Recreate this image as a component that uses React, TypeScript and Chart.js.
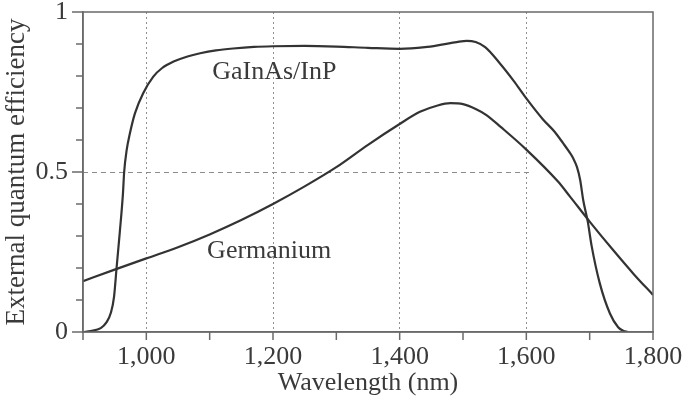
import React, { useEffect, useRef } from 'react';
import { Chart, registerables } from 'chart.js';

Chart.register(...registerables);

// GaInAs/InP photodiode (wavelength nm, external quantum efficiency)
const GAINAS_WL = [900, 912, 928, 937, 944, 949, 953, 958, 963, 965, 969, 974, 982, 995, 1011, 1025, 1043, 1065, 1085, 1110, 1137, 1170, 1200, 1250, 1300, 1350, 1400, 1440, 1464, 1490, 1506, 1520, 1535, 1558, 1580, 1600, 1626, 1645, 1658, 1667, 1674, 1680, 1685, 1690, 1697, 1703, 1716, 1732, 1745, 1753, 1760];
const GAINAS_QE = [0, 0.003, 0.012, 0.03, 0.06, 0.11, 0.2, 0.31, 0.43, 0.5, 0.569, 0.62, 0.683, 0.746, 0.798, 0.825, 0.845, 0.861, 0.871, 0.88, 0.886, 0.891, 0.893, 0.894, 0.892, 0.888, 0.885, 0.89, 0.897, 0.906, 0.91, 0.906, 0.89, 0.84, 0.785, 0.73, 0.665, 0.625, 0.59, 0.565, 0.543, 0.515, 0.475, 0.41, 0.345, 0.27, 0.152, 0.058, 0.015, 0.004, 0];

// Germanium photodiode
const GE_WL = [900, 950, 1000, 1050, 1100, 1150, 1200, 1250, 1300, 1350, 1400, 1432, 1460, 1480, 1500, 1520, 1537, 1560, 1600, 1650, 1669, 1700, 1737, 1770, 1800];
const GE_QE = [0.159, 0.195, 0.23, 0.265, 0.305, 0.35, 0.4, 0.455, 0.515, 0.585, 0.65, 0.688, 0.708, 0.715, 0.712, 0.697, 0.678, 0.64, 0.57, 0.47, 0.423, 0.345, 0.256, 0.18, 0.116];

const X_MIN = 900;
const X_MAX = 1800;
const X_STEP = 100;
const X_LABELED = [1000, 1200, 1400, 1600, 1800];
const X_GRID = [1000, 1200, 1400, 1600];
const Y_MIN = 0;
const Y_MAX = 1;
const Y_LABELS = ['0', '', '', '', '', '0.5', '', '', '', '', '1'];
const Y_GRID = 0.5;
const Y_GRID_END = 1610;

const CURVE_LABEL_TEXT = ['GaInAs/InP', 'Germanium'];
const CURVE_LABEL_X = [1202, 1194];
const CURVE_LABEL_Y = [0.791, 0.231];

const X_TITLE = 'Wavelength (nm)';
const Y_TITLE = 'External quantum efficiency';

const FONT = '"Liberation Serif", "Times New Roman", serif';
const TEXT_COLOR = '#3a3a3a';
const AXIS_COLOR = '#6a6a6a';
const CURVE_COLOR = '#333333';

const fmt = (v: number) => v.toLocaleString('en-US');

const zeroPadding = (s: any) => {
  s.paddingTop = 0;
  s.paddingBottom = 0;
  s.paddingLeft = 0;
  s.paddingRight = 0;
};

const decorPlugin = {
  id: 'decor',
  beforeDatasetsDraw(chart: any) {
    const { ctx, chartArea, scales } = chart;
    const x = scales.x;
    const y = scales.y;
    ctx.save();
    ctx.strokeStyle = '#8c8c8c';
    ctx.lineWidth = 1;
    ctx.setLineDash([5, 4]);
    const py = Math.round(y.getPixelForValue(Y_GRID)) + 0.5;
    ctx.beginPath();
    ctx.moveTo(chartArea.left, py);
    ctx.lineTo(x.getPixelForValue(Y_GRID_END), py);
    ctx.stroke();
    ctx.restore();
  },
  afterDraw(chart: any) {
    const { ctx, chartArea, scales } = chart;
    const x = scales.x;
    const y = scales.y;
    ctx.save();
    ctx.strokeStyle = AXIS_COLOR;
    ctx.lineWidth = 1.5;
    ctx.setLineDash([]);
    ctx.strokeRect(chartArea.left, chartArea.top, chartArea.right - chartArea.left, chartArea.bottom - chartArea.top);
    for (let v = X_MIN; v <= X_MAX; v += X_STEP) {
      const px = x.getPixelForValue(v);
      ctx.beginPath();
      ctx.moveTo(px, chartArea.bottom);
      ctx.lineTo(px, chartArea.bottom + 8);
      ctx.stroke();
    }
    for (let i = 0; i <= 10; i++) {
      const py = y.getPixelForValue(Y_MIN + (i * (Y_MAX - Y_MIN)) / 10);
      const len = i % 5 === 0 ? 11 : 7;
      ctx.beginPath();
      ctx.moveTo(chartArea.left, py);
      ctx.lineTo(chartArea.left - len, py);
      ctx.stroke();
    }
    ctx.fillStyle = TEXT_COLOR;
    ctx.font = `26px ${FONT}`;
    ctx.textAlign = 'center';
    ctx.textBaseline = 'alphabetic';
    CURVE_LABEL_TEXT.forEach((t, i) => {
      ctx.fillText(t, x.getPixelForValue(CURVE_LABEL_X[i]), y.getPixelForValue(CURVE_LABEL_Y[i]));
    });
    ctx.restore();
  },
};

export default function App() {
  const ref = useRef<HTMLCanvasElement | null>(null);

  useEffect(() => {
    document.body.style.margin = '0';
    const canvas = ref.current;
    if (!canvas) return;
    const chart = new Chart(canvas, {
      type: 'line',
      data: {
        datasets: [
          {
            label: 'GaInAs/InP',
            data: GAINAS_WL.map((w, i) => ({ x: w, y: GAINAS_QE[i] })),
            borderColor: CURVE_COLOR,
            borderWidth: 2.2,
            pointRadius: 0,
            cubicInterpolationMode: 'monotone',
            fill: false,
          },
          {
            label: 'Germanium',
            data: GE_WL.map((w, i) => ({ x: w, y: GE_QE[i] })),
            borderColor: CURVE_COLOR,
            borderWidth: 2.2,
            pointRadius: 0,
            cubicInterpolationMode: 'monotone',
            fill: false,
          },
        ],
      },
      options: {
        animation: false,
        responsive: true,
        maintainAspectRatio: false,
        layout: { padding: { top: 12, right: 33, left: 0, bottom: 0 } },
        plugins: {
          legend: { display: false },
          tooltip: { enabled: false },
        },
        scales: {
          x: {
            type: 'linear',
            min: X_MIN,
            max: X_MAX,
            afterFit: (s: any) => {
              s.height = 70;
              zeroPadding(s);
            },
            ticks: {
              stepSize: X_STEP,
              autoSkip: false,
              maxRotation: 0,
              padding: 10,
              color: TEXT_COLOR,
              font: { family: FONT, size: 26 },
              callback: (v: any) => (X_LABELED.includes(Number(v)) ? fmt(Number(v)) : ''),
            },
            grid: {
              drawTicks: false,
              lineWidth: 1,
              color: (c: any) => (c.tick && X_GRID.includes(c.tick.value) ? '#909090' : 'rgba(0,0,0,0)'),
            },
            border: { display: true, color: AXIS_COLOR, width: 1.5, dash: [2, 3] },
            title: {
              display: true,
              text: X_TITLE,
              color: TEXT_COLOR,
              font: { family: FONT, size: 26, lineHeight: 1.2 },
              padding: { top: 0, bottom: 3 },
            },
          },
          y: {
            type: 'linear',
            min: Y_MIN,
            max: Y_MAX,
            afterFit: (s: any) => {
              s.width = 83;
              zeroPadding(s);
            },
            ticks: {
              stepSize: 0.1,
              autoSkip: false,
              padding: 15,
              color: TEXT_COLOR,
              font: { family: FONT, size: 26 },
              callback: (_v: any, i: number) => Y_LABELS[i] ?? '',
            },
            grid: { display: false, drawTicks: false },
            border: { display: true, color: AXIS_COLOR, width: 1.5 },
            title: {
              display: true,
              text: Y_TITLE,
              color: TEXT_COLOR,
              font: { family: FONT, size: 27, lineHeight: 1.2 },
              padding: { top: 1, bottom: 0 },
            },
          },
        },
      },
      plugins: [decorPlugin],
    } as any);
    return () => chart.destroy();
  }, []);

  return (
    <div style={{ position: 'fixed', left: 0, top: 0, width: 686, height: 402, background: '#fff' }}>
      <canvas ref={ref} />
    </div>
  );
}
